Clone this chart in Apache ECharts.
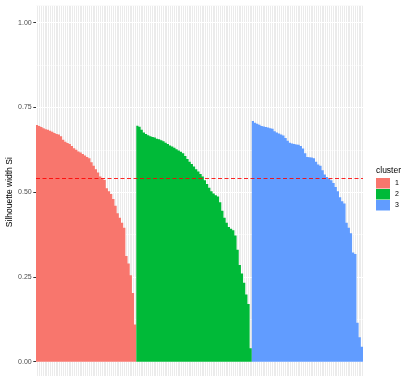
<!DOCTYPE html>
<html>
<head>
<meta charset="utf-8">
<script src="https://cdn.jsdelivr.net/npm/echarts@6/dist/echarts.min.js"></script>
<style>
  html, body { margin: 0; padding: 0; background: #ffffff; }
  #chart { width: 404px; height: 376px; }
</style>
</head>
<body>
<div id="chart"></div>
<script>
// Silhouette widths per cluster, each sorted in decreasing order
const clusterNames = ['1', '2', '3'];
const clusterColors = ['#F8766D', '#00BA38', '#619CFF'];

const silCluster1 = [
  0.698, 0.695, 0.692, 0.689, 0.686, 0.684, 0.681, 0.678, 0.675, 0.672,
  0.670, 0.665, 0.655, 0.649, 0.645, 0.642, 0.636, 0.630, 0.625, 0.620,
  0.617, 0.613, 0.608, 0.604, 0.600, 0.588, 0.578, 0.568, 0.558, 0.546,
  0.540, 0.536, 0.512, 0.503, 0.495, 0.480, 0.460, 0.438, 0.425, 0.410,
  0.395, 0.312, 0.290, 0.255, 0.203, 0.110
];
const silCluster2 = [
  0.696, 0.693, 0.684, 0.676, 0.672, 0.668, 0.665, 0.663, 0.661, 0.658,
  0.656, 0.653, 0.650, 0.646, 0.642, 0.638, 0.635, 0.631, 0.627, 0.623,
  0.619, 0.615, 0.607, 0.598, 0.590, 0.583, 0.576, 0.568, 0.561, 0.554,
  0.546, 0.535, 0.524, 0.513, 0.503, 0.496, 0.491, 0.487, 0.470, 0.445,
  0.425, 0.410, 0.397, 0.392, 0.388, 0.372, 0.330, 0.285, 0.260, 0.233,
  0.198, 0.170, 0.040
];
const silCluster3 = [
  0.710, 0.705, 0.702, 0.699, 0.695, 0.694, 0.692, 0.691, 0.689, 0.687,
  0.680, 0.676, 0.673, 0.670, 0.667, 0.660, 0.652, 0.646, 0.644, 0.642,
  0.641, 0.640, 0.636, 0.629, 0.615, 0.604, 0.603, 0.602, 0.600, 0.590,
  0.582, 0.578, 0.565, 0.552, 0.545, 0.540, 0.535, 0.527, 0.515, 0.503,
  0.485, 0.473, 0.467, 0.410, 0.395, 0.379, 0.322, 0.318, 0.115, 0.072,
  0.044
];

// Average silhouette width over all observations
const avgSilWidth = 0.543;

const yTicks = [0, 0.25, 0.5, 0.75, 1];
const yMinorTicks = [0.125, 0.375, 0.625, 0.875];
const yTickLabels = ['0.00', '0.25', '0.50', '0.75', '1.00'];

// One category per observation, in plotting order
const clusters = [silCluster1, silCluster2, silCluster3];
const total = clusters.reduce((s, c) => s + c.length, 0);
const categories = Array.from({ length: total }, (_, i) => String(i + 1));

// Each cluster series holds [observation index, silhouette width] pairs;
// large mode draws the bars of a series as one path so neighbours join cleanly
let offset = 0;
const barSeries = clusters.map((vals, k) => {
  const data = vals.map((v, i) => [offset + i, v]);
  offset += vals.length;
  return {
    name: clusterNames[k],
    type: 'bar',
    data: data,
    barWidth: '100%',
    barGap: '-100%',
    barCategoryGap: 0,
    large: true,
    largeThreshold: 1,
    itemStyle: { color: clusterColors[k] },
    emphasis: { disabled: true },
    animation: false
  };
});

// Dashed reference line at the average silhouette width
const avgLineStyle = { color: '#FF0000', type: [4, 2.5], width: 1, opacity: 0.85 };
barSeries.push({
  name: 'average',
  type: 'line',
  data: [],
  silent: true,
  z: 5,
  markLine: {
    silent: true,
    symbol: ['none', 'none'],
    label: { show: false },
    lineStyle: avgLineStyle,
    emphasis: { disabled: true },
    data: [{ yAxis: avgSilWidth, lineStyle: avgLineStyle }],
    animation: false
  },
  animation: false
});

const font = 'Liberation Sans, Arial, Helvetica, sans-serif';

const chart = echarts.init(document.getElementById('chart'), null, { renderer: 'canvas' });
chart.setOption({
  backgroundColor: '#ffffff',
  animation: false,
  title: {
    text: 'cluster',
    left: 376,
    top: 166,
    padding: 0,
    textStyle: { fontFamily: font, fontSize: 8.5, fontWeight: 'normal', color: '#000000' }
  },
  legend: {
    data: clusterNames,
    orient: 'vertical',
    left: 376,
    top: 178,
    icon: 'rect',
    itemWidth: 14,
    itemHeight: 10.5,
    itemGap: 0.5,
    textStyle: { fontFamily: font, fontSize: 7, color: '#000000' },
    padding: 0,
    selectedMode: false
  },
  grid: {
    left: 36,
    top: 5.75,
    width: 327,
    height: 372.9,
    show: true,
    backgroundColor: '#EBEBEB',
    borderWidth: 0,
    containLabel: false,
    outerBoundsMode: 'none'
  },
  xAxis: {
    type: 'category',
    data: categories,
    boundaryGap: true,
    axisLine: { show: false },
    axisTick: { show: false },
    axisLabel: { show: false },
    splitLine: { show: true, interval: 0, lineStyle: { color: '#ffffff', width: 1 } }
  },
  yAxis: [
    {
      type: 'value',
      min: -0.05,
      max: 1.05,
      name: 'Silhouette width Si',
      nameLocation: 'middle',
      nameGap: 22,
      nameMoveOverlap: false,
      nameTextStyle: { fontFamily: font, fontSize: 8.5, color: '#000000' },
      axisLine: { show: false },
      axisTick: { show: true, length: 2.7, customValues: yTicks, lineStyle: { color: '#333333', width: 1 } },
      axisLabel: {
        customValues: yTicks,
        formatter: (v) => yTickLabels[yTicks.indexOf(Math.round(v * 100) / 100)] || '',
        fontFamily: font,
        fontSize: 7,
        color: '#4D4D4D',
        margin: 4.3
      },
      splitLine: { show: true, lineStyle: { color: '#ffffff', width: 1.1 } }
    },
    {
      type: 'value',
      min: -0.05,
      max: 1.05,
      position: 'left',
      axisLine: { show: false },
      axisTick: { show: false, customValues: yMinorTicks },
      axisLabel: { show: false, customValues: yMinorTicks },
      splitLine: { show: true, lineStyle: { color: '#ffffff', width: 0.5 } }
    }
  ],
  series: barSeries
});
</script>
</body>
</html>
